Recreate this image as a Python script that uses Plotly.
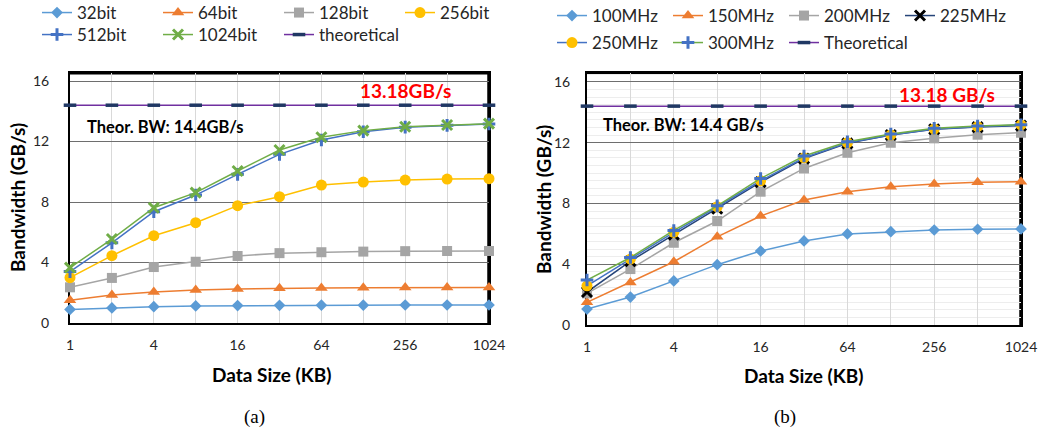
import math
import plotly.graph_objects as go

# ---------------- data ----------------
sizes_kb = [1, 2, 4, 8, 16, 32, 64, 128, 256, 512, 1024]
tick_text = ["1", "", "4", "", "16", "", "64", "", "256", "", "1024"]

# (a) bandwidth vs. data width
bw_32bit = [0.90, 1.00, 1.08, 1.13, 1.15, 1.17, 1.18, 1.18, 1.19, 1.19, 1.19]
bw_64bit = [1.50, 1.85, 2.05, 2.18, 2.25, 2.30, 2.32, 2.33, 2.34, 2.35, 2.35]
bw_128bit = [2.36, 2.98, 3.70, 4.05, 4.43, 4.62, 4.68, 4.72, 4.75, 4.76, 4.76]
bw_256bit = [3.00, 4.45, 5.77, 6.63, 7.76, 8.35, 9.12, 9.32, 9.45, 9.52, 9.54]
bw_512bit = [3.40, 5.30, 7.36, 8.46, 9.83, 11.15, 12.10, 12.65, 12.95, 13.07, 13.16]
bw_1024bit = [3.66, 5.55, 7.62, 8.62, 10.05, 11.44, 12.28, 12.72, 12.98, 13.09, 13.18]
theoretical_a = [14.4] * 11

# (b) bandwidth vs. clock frequency
bw_100mhz = [1.05, 1.84, 2.90, 3.97, 4.87, 5.53, 5.99, 6.14, 6.25, 6.30, 6.32]
bw_150mhz = [1.49, 2.80, 4.16, 5.80, 7.17, 8.22, 8.77, 9.10, 9.28, 9.39, 9.43]
bw_200mhz = [2.08, 3.68, 5.41, 6.84, 8.77, 10.30, 11.33, 11.99, 12.28, 12.52, 12.65]
bw_225mhz = [2.17, 4.20, 5.95, 7.65, 9.40, 10.95, 11.95, 12.50, 12.88, 13.02, 13.12]
bw_250mhz = [2.58, 4.34, 6.10, 7.78, 9.49, 11.00, 11.99, 12.50, 12.89, 13.05, 13.16]
bw_300mhz = [2.96, 4.44, 6.22, 7.84, 9.64, 11.12, 12.06, 12.57, 12.94, 13.09, 13.18]
theoretical_b = [14.4] * 11

W, H = 1047, 434
FONT = "Lato"


def px(x):
    return x / W


def py(y):
    return 1 - y / H


fig = go.Figure()


def series(name, y, color, symbol, size, xa, ya, legend, line_color=None,
           mline=None, legendwidth=None):
    marker = dict(symbol=symbol, size=size, color=color)
    if mline is not None:
        marker["line"] = mline
    fig.add_trace(go.Scatter(
        x=sizes_kb, y=y, name=name, mode="lines+markers",
        line=dict(color=line_color or color, width=1.5),
        marker=marker, xaxis=xa, yaxis=ya, legend=legend,
        legendwidth=legendwidth, cliponaxis=False,
    ))


BLUE_L = "#5B9BD5"
ORANGE = "#ED7D31"
GRAY = "#A5A5A5"
GOLD = "#FFC000"
BLUE = "#4472C4"
GREEN = "#70AD47"
NAVY = "#203864"
PURPLE = "#7030A0"

# panel (a)
series("32bit", bw_32bit, BLUE_L, "diamond", 9, "x", "y", "legend")
series("64bit", bw_64bit, ORANGE, "triangle-up", 11, "x", "y", "legend")
series("128bit", bw_128bit, GRAY, "square", 10, "x", "y", "legend")
series("256bit", bw_256bit, GOLD, "circle", 11, "x", "y", "legend")
series("512bit", bw_512bit, BLUE, "cross-thin", 9, "x", "y", "legend2",
       mline=dict(color=BLUE, width=3))
series("1024bit", bw_1024bit, GREEN, "x-thin", 10, "x", "y", "legend2",
       mline=dict(color=GREEN, width=3))
series("theoretical", theoretical_a, NAVY, "line-ew", 9, "x", "y", "legend2",
       line_color=PURPLE, mline=dict(color=NAVY, width=3.5), legendwidth=110)

# panel (b)
series("100MHz", bw_100mhz, BLUE_L, "diamond", 9, "x2", "y2", "legend3")
series("150MHz", bw_150mhz, ORANGE, "triangle-up", 11, "x2", "y2", "legend3")
series("200MHz", bw_200mhz, GRAY, "square", 10, "x2", "y2", "legend3")
series("225MHz", bw_225mhz, "#000000", "x-thin", 10, "x2", "y2", "legend3",
       line_color="#264478", mline=dict(color="#000000", width=3),
       legendwidth=90)
series("250MHz", bw_250mhz, GOLD, "circle", 11, "x2", "y2", "legend4",
       line_color=BLUE)
series("300MHz", bw_300mhz, BLUE, "cross-thin", 9, "x2", "y2", "legend4",
       line_color=GREEN, mline=dict(color=BLUE, width=3))
series("Theoretical", theoretical_b, NAVY, "line-ew", 9, "x2", "y2", "legend4",
       line_color=PURPLE, mline=dict(color=NAVY, width=3.5), legendwidth=110)

xlog_range = [0, math.log10(1024)]

common_x = dict(
    type="log", range=xlog_range, tickvals=sizes_kb, ticktext=tick_text,
    showgrid=True, gridcolor="#D9D9D9", gridwidth=1,
    showline=True, linecolor="#000000", linewidth=2, mirror=True,
    ticks="", zeroline=False, layer="below traces",
    tickfont=dict(family=FONT, size=14, color="#262626"),
    ticklabelstandoff=8,
)
common_y = dict(
    tickvals=[0, 4, 8, 12, 16], showgrid=True, gridcolor="#6E6E6E", gridwidth=1,
    showline=True, linecolor="#000000", linewidth=2, mirror=True,
    ticks="", zeroline=False, layer="below traces",
    tickfont=dict(family=FONT, size=14, color="#262626"),
)

fig.update_layout(
    xaxis=dict(common_x, domain=[px(70), px(489)], anchor="y"),
    yaxis=dict(common_y, domain=[py(323), py(73)], range=[0, 16.53],
               anchor="x", ticklabelstandoff=16),
    xaxis2=dict(common_x, domain=[px(587), px(1021)], anchor="y2"),
    yaxis2=dict(common_y, domain=[py(325), py(73)], range=[0, 16.58],
                anchor="x2", ticklabelstandoff=12,
                minor=dict(dtick=0.5, showgrid=True, gridcolor="#EDEDED",
                           gridwidth=1)),
)

# heavier top and right edges of each plot frame
for xr, yr in (("x domain", "y domain"), ("x2 domain", "y2 domain")):
    fig.add_shape(type="line", xref=xr, yref=yr, x0=1, x1=1, y0=0, y1=1,
                  line=dict(color="#000000", width=3.5), layer="below")
    fig.add_shape(type="line", xref=xr, yref=yr, x0=0, x1=1, y0=1, y1=1,
                  line=dict(color="#000000", width=3), layer="below")

legend_common = dict(
    orientation="h", xanchor="left", yanchor="middle",
    font=dict(family=FONT, size=17, color="#262626"),
    bgcolor="rgba(0,0,0,0)", itemwidth=30, entrywidthmode="pixels",
    itemclick=False, itemdoubleclick=False,
)
fig.update_layout(
    legend=dict(legend_common, x=px(37), y=py(13), entrywidth=76),
    legend2=dict(legend_common, x=px(37), y=py(35), entrywidth=76),
    legend3=dict(legend_common, x=px(552), y=py(16), entrywidth=71),
    legend4=dict(legend_common, x=px(552), y=py(43), entrywidth=71),
)


def label(text, x, y, size, color="#000000", bold=False, family=FONT,
          angle=0):
    fig.add_annotation(
        text=f"<b>{text}</b>" if bold else text, x=px(x), y=py(y),
        xref="paper", yref="paper", showarrow=False, textangle=angle,
        xanchor="center", yanchor="middle",
        font=dict(family=family, size=size, color=color),
    )


label("13.18GB/s", 405, 90, 19, color="#FF0000", bold=True)
label("Theor. BW: 14.4GB/s", 165, 127, 16.5, bold=True)
label("13.18 GB/s", 947, 94, 19, color="#FF0000", bold=True)
label("Theor. BW: 14.4 GB/s", 683, 125, 16.5, bold=True)

label("Bandwidth (GB/s)", 17, 198, 19, bold=True, angle=-90)
label("Bandwidth (GB/s)", 543, 200, 19, bold=True, angle=-90)
label("Data Size (KB)", 272, 374, 19, bold=True)
label("Data Size (KB)", 804, 375, 19, bold=True)

label("(a)", 254, 417, 19, family="Liberation Serif")
label("(b)", 785, 417, 19, family="Liberation Serif")

fig.update_layout(
    width=W, height=H,
    margin=dict(l=0, r=0, t=0, b=0, autoexpand=False),
    paper_bgcolor="#FFFFFF", plot_bgcolor="#FFFFFF",
    showlegend=True,
)

fig.write_html("out.html")
